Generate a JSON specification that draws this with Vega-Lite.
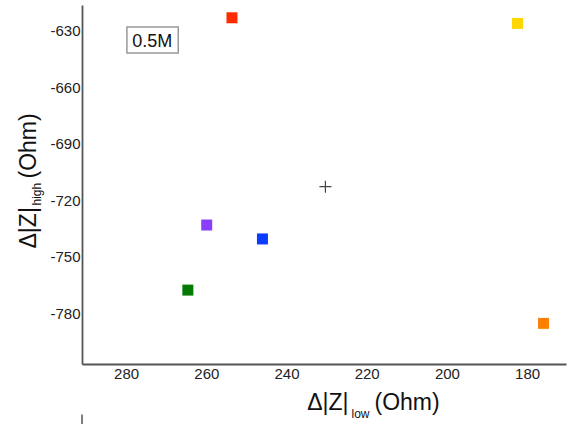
{
  "$schema": "https://vega.github.io/schema/vega-lite/v6.json",
  "width": 484,
  "height": 359,
  "autosize": {"type": "none"},
  "padding": {"left": 82, "top": 5, "right": 2, "bottom": 60},
  "background": "white",
  "config": {
    "font": "Liberation Sans",
    "view": {"stroke": null},
    "axis": {
      "grid": false,
      "ticks": false,
      "domainColor": "#555",
      "domainWidth": 1.8,
      "labelFont": "Liberation Sans",
      "labelFontSize": 15,
      "labelColor": "#222",
      "titleFont": "Liberation Sans",
      "titleFontWeight": "normal",
      "titleColor": "#111",
      "titleFontSize": 23
    }
  },
  "resolve": {"axis": {"x": "independent", "y": "independent"}},
  "layer": [
    {
      "data": {"values": [
        {"x": 253.6, "y": -623.0, "c": "a"},
        {"x": 182.4, "y": -626.0, "c": "b"},
        {"x": 259.9, "y": -733.2, "c": "c"},
        {"x": 246.0, "y": -740.6, "c": "d"},
        {"x": 264.6, "y": -767.8, "c": "e"},
        {"x": 175.9, "y": -785.5, "c": "f"}
      ]},
      "mark": {"type": "point", "shape": "square", "filled": true, "size": 121, "opacity": 1},
      "encoding": {
        "x": {"field": "x", "type": "quantitative",
          "scale": {"domain": [170.3, 291], "reverse": true, "nice": false, "zero": false},
          "axis": {"orient": "bottom", "values": [280, 260, 240, 220, 200, 180], "labelPadding": 2,
            "title": "Δ|Z|", "titleAlign": "right", "titleX": 266, "titleY": 45, "titleBaseline": "alphabetic"}},
        "y": {"field": "y", "type": "quantitative",
          "scale": {"domain": [-807.1, -616.2], "nice": false, "zero": false},
          "axis": {"orient": "left", "values": [-630, -660, -690, -720, -750, -780], "labelPadding": 2,
            "labelExpr": "replace(datum.label, '\u2212', '-')",
            "title": "Δ|Z|", "titleAngle": 270, "titleAlign": "left", "titleX": -47, "titleY": 243, "titleBaseline": "alphabetic"}},
        "color": {"field": "c", "type": "nominal",
          "scale": {"domain": ["a", "b", "c", "d", "e", "f"], "range": ["#ff2a00", "#ffd600", "#8a3ffc", "#0a3cff", "#037a03", "#ff8000"]},
          "legend": null}
      }
    },
    {
      "data": {"values": [{"x": 230.3, "y": -712.8}]},
      "mark": {"type": "point", "shape": "M-1,0H1M0,-1V1", "filled": false, "size": 144, "stroke": "#444", "strokeWidth": 1.2, "opacity": 1},
      "encoding": {
        "x": {"field": "x", "type": "quantitative",
          "scale": {"domain": [170.3, 291], "reverse": true, "nice": false, "zero": false},
          "axis": {"orient": "bottom", "domain": false, "labels": false,
            "title": "low", "titleFontSize": 12, "titleAlign": "left", "titleX": 269, "titleY": 53, "titleBaseline": "alphabetic"}},
        "y": {"field": "y", "type": "quantitative",
          "scale": {"domain": [-807.1, -616.2], "nice": false, "zero": false},
          "axis": {"orient": "left", "domain": false, "labels": false,
            "title": "high", "titleFontSize": 12, "titleAngle": 270, "titleAlign": "left", "titleX": -42, "titleY": 200, "titleBaseline": "alphabetic"}}
      }
    },
    {
      "data": {"values": [{"x1": 279.8, "x2": 267.0, "y1": -627.9, "y2": -641.7}]},
      "mark": {"type": "rect", "fill": null, "fillOpacity": 0, "stroke": "#999", "strokeWidth": 1.5},
      "encoding": {
        "x": {"field": "x1", "type": "quantitative",
          "scale": {"domain": [170.3, 291], "reverse": true, "nice": false, "zero": false},
          "axis": {"orient": "bottom", "domain": false, "labels": false,
            "title": "(Ohm)", "titleAlign": "left", "titleX": 292, "titleY": 45, "titleBaseline": "alphabetic"}},
        "x2": {"field": "x2"},
        "y": {"field": "y1", "type": "quantitative",
          "scale": {"domain": [-807.1, -616.2], "nice": false, "zero": false},
          "axis": {"orient": "left", "domain": false, "labels": false,
            "title": "(Ohm)", "titleAngle": 270, "titleAlign": "left", "titleX": -47, "titleY": 173, "titleBaseline": "alphabetic"}},
        "y2": {"field": "y2"}
      }
    },
    {
      "data": {"values": [{"x": 273.5, "y": -638.4, "t": "0.5M"}]},
      "mark": {"type": "text", "fontSize": 18, "color": "#111", "align": "center", "baseline": "alphabetic"},
      "encoding": {
        "x": {"field": "x", "type": "quantitative",
          "scale": {"domain": [170.3, 291], "reverse": true, "nice": false, "zero": false}, "axis": null},
        "y": {"field": "y", "type": "quantitative",
          "scale": {"domain": [-807.1, -616.2], "nice": false, "zero": false}, "axis": null},
        "text": {"field": "t"}
      }
    },
    {
      "data": {"values": [{"x": 291, "y1": -834, "y2": -846}]},
      "mark": {"type": "rule", "stroke": "#555", "strokeWidth": 1.5, "clip": false},
      "encoding": {
        "x": {"field": "x", "type": "quantitative",
          "scale": {"domain": [170.3, 291], "reverse": true, "nice": false, "zero": false}, "axis": null},
        "y": {"field": "y1", "type": "quantitative",
          "scale": {"domain": [-807.1, -616.2], "nice": false, "zero": false}, "axis": null},
        "y2": {"field": "y2"}
      }
    }
  ]
}
